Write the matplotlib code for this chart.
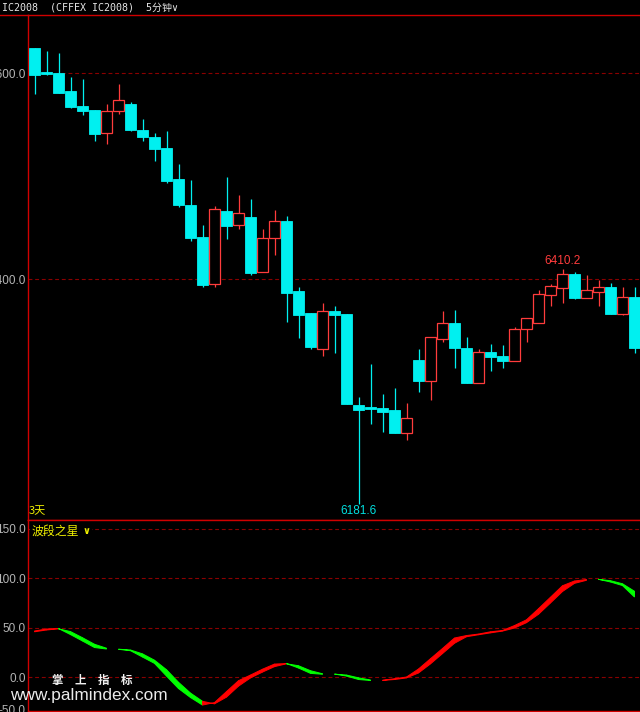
import matplotlib
matplotlib.use("Agg")
import matplotlib.pyplot as plt
from matplotlib.lines import Line2D
import numpy as np

# ---------------- data ----------------
opens = [6624.6, 6601.3, 6600.3, 6582.8, 6568.2, 6564.3, 6541.7, 6563.1, 6570.2, 6544.9,
         6538.0, 6527.4, 6497.1, 6471.9, 6440.5, 6395.4, 6466.1, 6452.2, 6460.3, 6406.5,
         6439.6, 6456.4, 6388.3, 6366.9, 6332.2, 6368.9, 6365.9, 6277.5, 6275.5, 6274.6,
         6272.6, 6250.6, 6320.8, 6301.1, 6342.0, 6357.2, 6332.9, 6298.6, 6328.7, 6324.8,
         6320.6, 6351.1, 6357.5, 6384.7, 6391.5, 6404.9, 6381.8, 6387.4, 6392.1, 6366.2,
         6382.5]
highs = [6624.6, 6621.7, 6619.7, 6596.4, 6594.4, 6564.3, 6570.2, 6589.6, 6572.1, 6555.6,
         6542.0, 6544.0, 6511.8, 6496.1, 6452.5, 6471.0, 6499.0, 6481.7, 6477.8, 6448.6,
         6467.1, 6461.5, 6392.2, 6366.9, 6376.6, 6373.8, 6365.9, 6285.3, 6317.4, 6288.2,
         6294.0, 6279.4, 6331.5, 6343.3, 6369.0, 6369.9, 6343.6, 6331.6, 6336.8, 6335.8,
         6353.4, 6361.8, 6389.3, 6395.1, 6410.2, 6406.8, 6403.9, 6399.0, 6396.0, 6392.2,
         6392.2]
lows = [6580.2, 6598.6, 6581.0, 6566.3, 6559.7, 6534.5, 6531.5, 6560.7, 6543.9, 6534.5,
        6515.0, 6493.7, 6470.3, 6437.2, 6391.9, 6391.9, 6439.2, 6448.9, 6404.2, 6406.5,
        6423.6, 6358.5, 6342.9, 6332.2, 6325.0, 6328.0, 6278.7, 6181.6, 6259.0, 6251.2,
        6250.6, 6243.8, 6290.4, 6282.6, 6338.7, 6313.8, 6299.2, 6298.6, 6310.9, 6313.8,
        6320.6, 6339.0, 6357.5, 6374.0, 6377.0, 6380.5, 6381.8, 6373.3, 6366.2, 6365.2,
        6328.3]
closes = [6598.6, 6599.3, 6581.1, 6567.5, 6563.6, 6541.3, 6563.1, 6573.7, 6544.9, 6538.4,
          6526.7, 6495.6, 6472.2, 6440.2, 6394.5, 6467.8, 6451.8, 6463.9, 6406.2, 6439.6,
          6456.1, 6386.7, 6365.3, 6334.2, 6368.6, 6365.3, 6278.7, 6272.9, 6273.9, 6271.0,
          6250.6, 6264.6, 6301.1, 6343.3, 6357.0, 6333.2, 6299.2, 6328.7, 6324.4, 6320.6,
          6351.4, 6361.8, 6385.4, 6393.2, 6404.9, 6381.8, 6389.0, 6392.6, 6366.2, 6382.2,
          6333.2]

# marked extreme bars (index of labelled low / high)
low_mark_idx = 27
high_mark_idx = 44

# indicator "波段之星": fast edge and lagged edge of the band
wave = [46.8, 48.8, 49.3, 43.2, 36.7, 30.1, 28.6, 28.3, 26.9, 20.5,
        14.1, 1.3, -11.3, -20.4, -28.0, -25.5, -14.4, -3.4, 2.3, 8.2,
        13.4, 13.9, 9.4, 4.0, 3.1, 3.3, 1.3, -2.2, -3.2, -3.0,
        -1.4, 0.3, 8.4, 18.8, 29.1, 39.7, 42.2, 43.7, 46.0, 47.3,
        52.3, 58.1, 69.3, 80.9, 92.5, 97.3, 98.8, 99.0, 96.3, 92.7,
        81.1]
wave_lag = [46.0, 47.8, 49.0, 46.2, 40.0, 33.4, 29.4, 28.4, 27.6, 23.7,
            17.3, 7.7, -5.0, -15.9, -24.2, -26.8, -20.0, -8.9, -0.6, 5.3,
            10.8, 13.7, 11.7, 6.7, 3.6, 3.2, 2.3, -0.5, -2.7, -3.1,
            -2.2, -0.6, 4.4, 13.6, 24.0, 34.4, 41.0, 43.0, 44.9, 46.7,
            49.8, 55.2, 63.7, 75.1, 86.7, 94.9, 98.0, 98.9, 97.6, 94.5,
            86.9]

price_ticks = [6400, 6600]
ind_ticks = [0, 50, 100, 150]

# ---------------- style ----------------
W, H = 640, 712
BG = "black"
BORDER = "#d00000"
GRID = "#8a0000"
CYAN = "#00f0f0"
RED = "#ff3c3c"
LABEL = "#b4b4b4"
YELLOW = "#f0f000"


def fx(px):
    return px / W


def fy(py):
    return 1 - py / H


fig = plt.figure(figsize=(W / 100, H / 100), dpi=100, facecolor=BG)

top_y0, top_y1 = 15, 520
bot_y0, bot_y1 = 520, 710.7
ax = fig.add_axes([fx(28), fy(top_y1), (W - 28) / W, (top_y1 - top_y0) / H])
ax2 = fig.add_axes([fx(28), fy(bot_y1), (W - 28) / W, (bot_y1 - bot_y0) / H])

n = len(opens)
x = np.arange(n)
for a in (ax, ax2):
    a.set_facecolor(BG)
    a.set_xlim(-0.542, 50.458)
    a.set_xticks([])
    a.spines["right"].set_visible(False)
    for s in ("left", "top", "bottom"):
        a.spines[s].set_color(BORDER)
        a.spines[s].set_linewidth(1.0)
    a.tick_params(axis="y", length=0, pad=1.8, labelcolor=LABEL, labelsize=8.5)

ax.set_ylim(6165.7, 6656.7)
ax2.set_ylim(-33.7, 158.9)

ax.set_yticks(price_ticks)
ax.set_yticklabels([f"{v:.1f}" for v in price_ticks], family="Liberation Sans")
ax2.set_yticks(ind_ticks)
ax2.set_yticklabels([f"{v:.1f}" for v in ind_ticks], family="Liberation Sans")

for v in price_ticks:
    ax.axhline(v, color=GRID, lw=0.8, ls=(0, (3.5, 2.5)), zorder=1)
for v in ind_ticks:
    ax2.axhline(v, color=GRID, lw=0.8, ls=(0, (3.5, 2.5)), zorder=1)

# candles
bw = 0.88
for i in range(n):
    o, h, l, c = opens[i], highs[i], lows[i], closes[i]
    if c > o:
        ax.vlines(x[i], c, h, color=RED, lw=0.9, zorder=2)
        ax.vlines(x[i], l, o, color=RED, lw=0.9, zorder=2)
        ax.bar(x[i], c - o, bottom=o, width=bw, facecolor=BG, edgecolor=RED,
               linewidth=0.9, zorder=3)
    else:
        ax.vlines(x[i], l, h, color=CYAN, lw=0.9, zorder=2)
        ax.bar(x[i], o - c, bottom=c, width=bw, facecolor=CYAN, edgecolor=CYAN,
               linewidth=0.6, zorder=3)

# high / low labels
ax.annotate(f"{lows[low_mark_idx]:.1f}", xy=(x[low_mark_idx], lows[low_mark_idx]),
            xytext=(0, -5.6), textcoords="offset points", ha="center", va="center",
            color="#00e0e0", fontsize=8.5, family="Liberation Sans", zorder=5)
ax.annotate(f"{highs[high_mark_idx]:.1f}", xy=(x[high_mark_idx], highs[high_mark_idx]),
            xytext=(0, 5.3), textcoords="offset points", ha="center", va="center",
            color=RED, fontsize=8.5, family="Liberation Sans", zorder=5)

# indicator band
for i in range(n - 1):
    d = wave[i + 1] - wave[i]
    if abs(d) < 0.4:
        continue
    col = "#ff0000" if d > 0 else "#00ff00"
    ax2.fill([x[i], x[i + 1], x[i + 1], x[i]],
             [wave[i], wave[i + 1], wave_lag[i + 1], wave_lag[i]],
             facecolor=col, edgecolor=col, lw=0.7, zorder=3)

# frame line at very top
fig.add_artist(Line2D([0, fx(28)], [fy(15), fy(15)], color=BORDER, lw=1.0))

# header
fig.text(fx(2), fy(7.5), "IC2008  (CFFEX IC2008)  5分钟∨", color="#e6e6e6",
         fontsize=7.2, family=["DejaVu Sans Mono", "Noto Sans CJK SC"],
         ha="left", va="center")

fig.text(fx(28.5), fy(511.5), "3天", color=YELLOW, fontsize=8,
         family=["Noto Sans CJK SC", "DejaVu Sans"], ha="left", va="center")
fig.text(fx(32), fy(531.5), "波段之星", color=YELLOW, fontsize=8.6,
         family=["Noto Sans CJK SC", "DejaVu Sans"], ha="left", va="center",
         bbox=dict(facecolor=BG, edgecolor="none", pad=1.5), zorder=6)
fig.text(fx(82.5), fy(531.5), "∨", color=YELLOW, fontsize=7, fontweight="bold",
         family="DejaVu Sans", ha="left", va="center",
         bbox=dict(facecolor=BG, edgecolor="none", pad=1.5), zorder=6)

fig.text(fx(25.7), fy(711.5), "-50.0", color=LABEL, fontsize=8.5,
         family="Liberation Sans", ha="right", va="center")

# watermark
fig.text(fx(52), fy(680.5), "掌　上　指　标", color="#f0f0f0", fontsize=8.3,
         fontweight="bold", family=["Noto Sans CJK SC", "DejaVu Sans"],
         ha="left", va="center", zorder=7)
fig.text(fx(10), fy(700), "www.palmindex.com", color="#ececec", fontsize=12.4,
         family="Liberation Sans", ha="left", va="baseline", zorder=7)

fig.savefig("out.png", dpi=100, facecolor=BG)
